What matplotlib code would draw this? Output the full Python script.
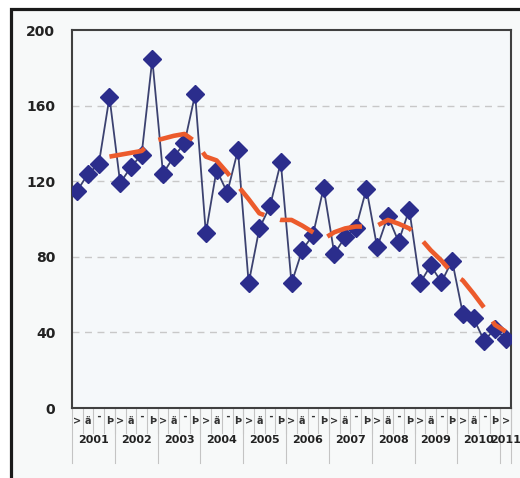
import numpy as np
import matplotlib
matplotlib.use('Agg')
import matplotlib.pyplot as plt
from matplotlib.patches import Rectangle
import matplotlib.transforms as mtransforms

years = ['2001', '2002', '2003', '2004', '2005', '2006', '2007', '2008', '2009', '2010', '2011']
quarter_labels = ['>', 'ä', '¯', 'Þ']

# quarterly values, 2001 Q1 .. 2011 Q1
values = [115, 124, 129, 164.5, 119, 127.5, 134, 184.5,
          124, 133, 140, 166, 92.5, 126, 114, 136.5,
          66, 95, 107, 130, 66, 83.5, 91.5, 116.5,
          81.5, 90.5, 95, 116, 85, 101.5, 88, 105,
          66, 75.5, 66.5, 78, 50, 47.5, 35.5, 42, 36.5]

# 4-quarter moving average (red dashed line)
trend = [np.nan, np.nan, np.nan, 133, 134, 135, 136, 141,
         142.5, 144, 145, 141, 133, 131, 124.5, 117.5,
         110.5, 103, 101, 99.5, 99.5, 96.5, 93, 89.5,
         93, 95, 96, 96, 96.5, 99.5, 97.5, 95,
         90, 83.5, 78, 71.5, 67.5, 60.5, 53, 44, 40.5]

yticks = [0, 40, 80, 120, 160, 200]

n = len(values)
x = np.arange(n)

fig = plt.figure(figsize=(5.2, 4.78), dpi=100)
fig.patch.set_facecolor('white')

# outer frame (cropped on the right and bottom)
fig.add_artist(Rectangle((10.5 / 520, -0.1), 1.2, 1.1 - 9.5 / 478,
                         transform=fig.transFigure, facecolor='#f7f9f9',
                         edgecolor='#1a1a1a', linewidth=2.3, zorder=0))

ax = fig.add_axes([72 / 520, 1 - 408 / 478, (511 - 72) / 520, (408 - 30) / 478])
ax.set_facecolor('#f5f8fa')

ax.plot(x, values, color='#3c4270', linewidth=1.3, zorder=3,
        marker='D', markersize=9, markerfacecolor='#2b2d8c',
        markeredgecolor='#2b2d8c')
ax.plot(x, trend, color='#ec5b2c', linewidth=3.3, zorder=4,
        dashes=(8, 3.6), dash_capstyle='butt', solid_capstyle='butt')

ax.set_xlim(-0.5, n - 0.5)
ax.set_ylim(0, 200)
ax.set_yticks(yticks)
ax.set_yticklabels([str(v) for v in yticks], fontsize=10, fontweight='bold', color='#222222')
ax.tick_params(axis='y', length=0, pad=12)
ax.set_xticks([])

for v in yticks[1:-1]:
    ax.axhline(v, color='#c8c8c8', linewidth=1.0, dashes=(5, 4), zorder=1)

for s in ax.spines.values():
    s.set_color('#404040')
    s.set_linewidth(1.5)

# two-level category axis: quarters and years
trans = mtransforms.blended_transform_factory(ax.transData, ax.transAxes)
for i in range(n):
    ax.text(i, -0.034, quarter_labels[i % 4], transform=trans, ha='center', va='center',
            fontsize=7, fontweight='bold', color='#333333', clip_on=False)
    ax.plot([i + 0.5, i + 0.5], [0, -0.066], transform=trans, color='#c4c4c4',
            linewidth=0.8, clip_on=False)
for k, yr in enumerate(years):
    start = 4 * k
    end = min(4 * k + 4, n)
    ax.text((start + end - 1) / 2, -0.085, yr, transform=trans, ha='center', va='center',
            fontsize=8, fontweight='bold', color='#222222', clip_on=False)
    ax.plot([start - 0.5, start - 0.5], [0, -0.145], transform=trans, color='#c4c4c4',
            linewidth=0.8, clip_on=False)
ax.plot([n - 0.5, n - 0.5], [0, -0.145], transform=trans, color='#c4c4c4',
        linewidth=0.8, clip_on=False)

fig.savefig('out.png', dpi=100)
